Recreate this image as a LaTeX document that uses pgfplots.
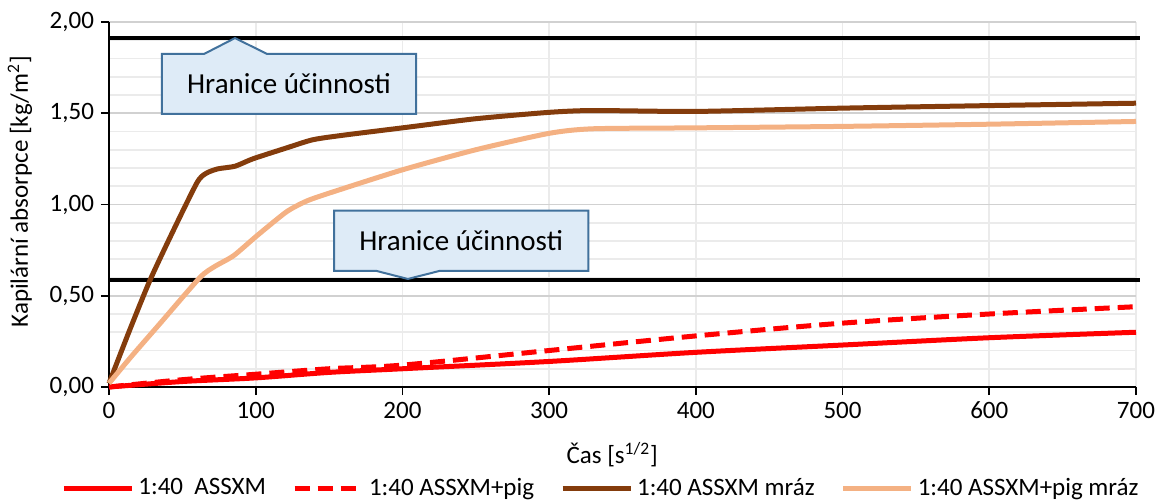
\documentclass[border=0pt]{standalone}
\usepackage{pgfplots}
\pgfplotsset{compat=1.18}
\usepackage{fontspec}
\setmainfont{Carlito}
\definecolor{cred}{RGB}{255,0,0}
\definecolor{cbrown}{HTML}{843C0C}
\definecolor{corange}{HTML}{F4B183}
\definecolor{cfill}{HTML}{DEEBF7}
\definecolor{cborder}{HTML}{41719C}
\begin{document}
\begin{tikzpicture}
\begin{axis}[
  scale only axis, width=513.5pt, height=182.5pt,
  xmin=0, xmax=700, ymin=0, ymax=2,
  xtick={0,100,200,300,400,500,600,700},
  ytick={0,0.5,1,1.5,2},
  minor ytick={0.1,0.2,0.3,0.4,0.6,0.7,0.8,0.9,1.1,1.2,1.3,1.4,1.6,1.7,1.8,1.9},
  axis x line*=bottom, axis y line*=left,
  axis line style={black, line width=0.8pt},
  tick align=outside, major tick length=4pt, minor tick length=0pt,
  tick style={black, line width=0.8pt},
  grid=both,
  major x grid style={black!8, line width=0.8pt},
  major y grid style={black!18, line width=0.8pt},
  minor y grid style={black!8, line width=0.8pt},
  /pgf/number format/assume math mode=true,
  tick label style={font=\fontsize{12.5}{15}\selectfont},
  yticklabel style={/pgf/number format/.cd, fixed, fixed zerofill, precision=2, use comma},
  xticklabel style={/pgf/number format/.cd, fixed, precision=0, 1000 sep={}},
  xlabel={Čas [s\textsuperscript{1/2}]},
  ylabel={Kapilární absorpce [kg/m\textsuperscript{2}]},
  every axis x label/.style={at={(axis description cs:0.49,-0.186)}, anchor=center, font=\fontsize{12.5}{15}\selectfont},
  every axis y label/.style={at={(axis description cs:-0.0867,0.535)}, anchor=center, rotate=90, font=\fontsize{12.5}{15}\selectfont},
  legend columns=4,
  legend style={at={(axis description cs:0.48,-0.277)}, anchor=center, draw=none, fill=none,
    font=\fontsize{12.5}{15}\selectfont,
    /tikz/every even column/.append style={column sep=11pt},
    nodes={inner xsep=2pt, inner ysep=1pt}},
  legend image code/.code={\draw[#1] (0pt,0pt) -- (34pt,0pt);},
  clip=false,
]
\addplot[black, line width=1.8pt, forget plot] coordinates {(0,1.912) (703,1.912)};
\addplot[black, line width=1.8pt, forget plot] coordinates {(0,0.586) (703,0.586)};

\addplot[cred, line width=2.5pt, smooth] coordinates {
(0,0) (50,0.03) (100,0.05) (150,0.08) (200,0.10) (300,0.14) (400,0.19) (500,0.23) (600,0.27) (700,0.30)};
\addlegendentry{1:40\ \ ASSXM}
\addplot[cred, line width=2.5pt, smooth, dash pattern=on 7.5pt off 4pt] coordinates {
(0,0) (50,0.04) (100,0.07) (150,0.10) (200,0.12) (300,0.20) (400,0.28) (500,0.35) (600,0.40) (700,0.44)};
\addlegendentry{1:40 ASSXM+pig}
\addplot[cbrown, line width=2.5pt, smooth, tension=0.4] coordinates {
(0,0.02) (14,0.31) (28,0.586) (44,0.86) (60,1.12) (66,1.17) (74,1.195) (86,1.21) (98,1.25) (121,1.31) (139,1.355) (160,1.38) (200,1.42) (250,1.47) (300,1.505) (330,1.515) (400,1.51) (500,1.528) (600,1.542) (700,1.555)};
\addlegendentry{1:40 ASSXM mráz}
\addplot[corange, line width=2.5pt, smooth, tension=0.4] coordinates {
(0,0.02) (15,0.165) (35,0.35) (62,0.60) (72,0.66) (85,0.72) (101,0.83) (121,0.96) (135,1.02) (153,1.07) (200,1.19) (250,1.30) (300,1.39) (330,1.415) (400,1.42) (500,1.428) (600,1.44) (700,1.455)};
\addlegendentry{1:40 ASSXM+pig mráz}

\draw[cborder, fill=cfill, line width=1pt] (axis cs:36.1,1.496) -- (axis cs:36.1,1.825) -- (axis cs:64.8,1.825) -- (axis cs:85.9,1.912) -- (axis cs:107.7,1.825) -- (axis cs:209.3,1.825) -- (axis cs:209.3,1.496) -- cycle;
\node[font=\fontsize{14.5}{17}\selectfont] at (axis cs:122.7,1.66) {Hranice účinnosti};
\draw[cborder, fill=cfill, line width=1pt] (axis cs:153.4,0.966) -- (axis cs:326.7,0.966) -- (axis cs:326.7,0.636) -- (axis cs:225.3,0.636) -- (axis cs:203.7,0.592) -- (axis cs:182.3,0.636) -- (axis cs:153.4,0.636) -- cycle;
\node[font=\fontsize{14.5}{17}\selectfont] at (axis cs:240,0.80) {Hranice účinnosti};
\end{axis}
\pgfresetboundingbox
\useasboundingbox (-54.5pt,-56pt) rectangle (524pt,193.5pt);
\end{tikzpicture}
\end{document}
